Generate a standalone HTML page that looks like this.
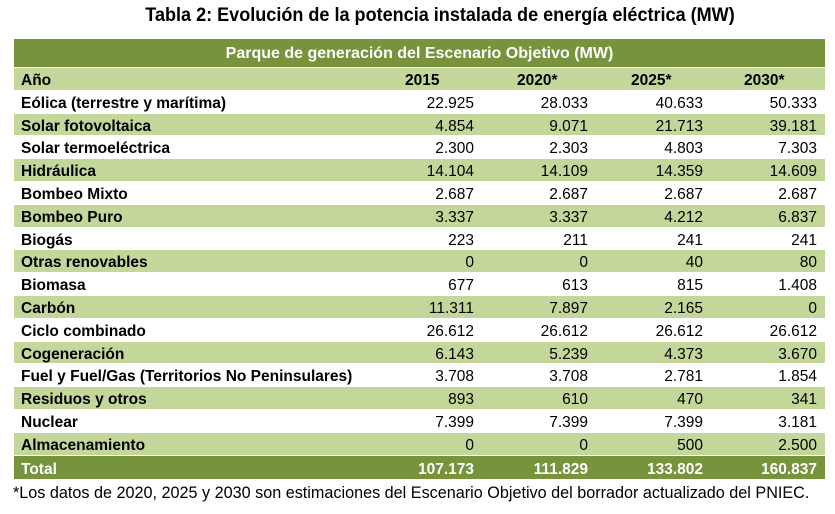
<!DOCTYPE html>
<html><head><meta charset="utf-8"><style>
body{margin:0;width:835px;height:514px;background:#fff;position:relative;overflow:hidden;font-family:"Liberation Sans",Arial,sans-serif;}
#title{position:absolute;left:0;width:880px;top:5px;text-align:center;font-weight:bold;font-size:19px;color:#000;transform:scaleX(0.95);transform-origin:440px 0;}
#tbl{position:absolute;left:14px;top:39px;width:811px;}
.bar{height:28px;background:#77933c;color:#fff;font-weight:bold;font-size:16px;text-align:center;line-height:30px;border-bottom:1px solid #fff;overflow:hidden;}
.row{height:22.8px;line-height:22.8px;font-size:15.5px;color:#000;position:relative;box-sizing:border-box;border-bottom:0.5px solid #fff;}
.row.g{background:#c4d79b}
.row.t{background:#77933c;color:#fff;height:24px;line-height:24px;}
.row span{position:absolute;top:2px}
.lab{left:7px;font-weight:bold;}
.v{text-align:right;width:100px}
.h{font-weight:bold}
#foot{position:absolute;left:13px;top:484px;font-size:16.2px;color:#000;white-space:nowrap;}
</style></head><body>
<div id="title">Tabla 2: Evolución de la potencia instalada de energía eléctrica (MW)</div>
<div id="tbl">
<div class="bar">Parque de generación del Escenario Objetivo (MW)</div>
<div id="rows"></div>
</div>
<div id="foot">*Los datos de 2020, 2025 y 2030 son estimaciones del Escenario Objetivo del borrador actualizado del PNIEC.</div>
<script>
const years=["2015","2020*","2025*","2030*"];
const labels=["Eólica (terrestre y marítima)","Solar fotovoltaica","Solar termoeléctrica","Hidráulica","Bombeo Mixto","Bombeo Puro","Biogás","Otras renovables","Biomasa","Carbón","Ciclo combinado","Cogeneración","Fuel y Fuel/Gas (Territorios No Peninsulares)","Residuos y otros","Nuclear","Almacenamiento"];
const v2015=["22.925","4.854","2.300","14.104","2.687","3.337","223","0","677","11.311","26.612","6.143","3.708","893","7.399","0"];
const v2020=["28.033","9.071","2.303","14.109","2.687","3.337","211","0","613","7.897","26.612","5.239","3.708","610","7.399","0"];
const v2025=["40.633","21.713","4.803","14.359","2.687","4.212","241","40","815","2.165","26.612","4.373","2.781","470","7.399","500"];
const v2030=["50.333","39.181","7.303","14.609","2.687","6.837","241","80","1.408","0","26.612","3.670","1.854","341","3.181","2.500"];
const totals=["107.173","111.829","133.802","160.837"];
const hx=[391,503,617,730], vr=[460,574,689,803];
const R=document.getElementById('rows');
function mk(cls,name){const d=document.createElement('div');d.className='row '+cls;


R.appendChild(d);return d;}
function sp(d,txt,cls,left,name){const s=document.createElement('span');s.className=cls;s.textContent=txt;s.style.left=left+'px';


d.appendChild(s);}
let h=mk('g','header-row');sp(h,'Año','lab',7,'year-label');
years.forEach((y,i)=>sp(h,y,'h',hx[i],'year-header'));
const cols=[v2015,v2020,v2025,v2030];
labels.forEach((l,r)=>{const d=mk(r%2?'g':'','row-'+r);sp(d,l,'lab',7,'category-label');
cols.forEach((c,i)=>sp(d,c[r],'v',vr[i]-100,'value-cell'));});
const t=mk('t','total-row');sp(t,'Total','lab',7,'total-label');
totals.forEach((v,i)=>sp(t,v,'v h',vr[i]-100,'total-value'));
</script>
</body></html>
